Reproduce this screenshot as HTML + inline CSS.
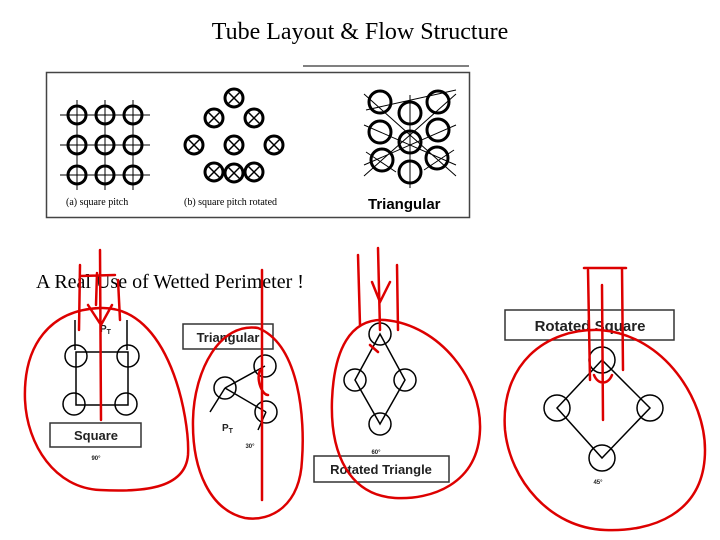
<!DOCTYPE html>
<html><head><style>
body{margin:0;width:720px;height:540px;background:#fff;overflow:hidden}
svg{display:block}
</style></head><body>
<svg width="720" height="540" viewBox="0 0 720 540" xmlns="http://www.w3.org/2000/svg">
<text x="360" y="39" text-anchor="middle" font-family="Liberation Serif" font-size="24">Tube Layout &amp; Flow Structure</text>
<line x1="303" y1="66" x2="469" y2="66" stroke="#000" stroke-width="1"/>
<rect x="46.5" y="72.5" width="423" height="145" fill="#fff" stroke="#444" stroke-width="1.5"/>
<g fill="none" stroke="#000" stroke-width="3">
<circle cx="77" cy="115" r="9"/><circle cx="105" cy="115" r="9"/><circle cx="133" cy="115" r="9"/>
<circle cx="77" cy="145" r="9"/><circle cx="105" cy="145" r="9"/><circle cx="133" cy="145" r="9"/>
<circle cx="77" cy="175" r="9"/><circle cx="105" cy="175" r="9"/><circle cx="133" cy="175" r="9"/>
</g>
<g stroke="#000" stroke-width="1">
<line x1="60" y1="115" x2="150" y2="115"/><line x1="60" y1="145" x2="150" y2="145"/><line x1="60" y1="175" x2="150" y2="175"/>
<line x1="77" y1="100" x2="77" y2="190"/><line x1="105" y1="100" x2="105" y2="190"/><line x1="133" y1="100" x2="133" y2="190"/>
</g>
<g fill="none" stroke="#000" stroke-width="3">
<circle cx="234" cy="98" r="9"/><circle cx="214" cy="118" r="9"/><circle cx="254" cy="118" r="9"/>
<circle cx="194" cy="145" r="9"/><circle cx="234" cy="145" r="9"/><circle cx="274" cy="145" r="9"/>
<circle cx="214" cy="172" r="9"/><circle cx="254" cy="172" r="9"/><circle cx="234" cy="173" r="9"/>
</g>
<g stroke="#000" stroke-width="1.5">
<path d="M227 91l14 14M241 91l-14 14M207 111l14 14M221 111l-14 14M247 111l14 14M261 111l-14 14M187 138l14 14M201 138l-14 14M227 138l14 14M241 138l-14 14M267 138l14 14M281 138l-14 14M207 165l14 14M221 165l-14 14M247 165l14 14M261 165l-14 14M227 166l14 14M241 166l-14 14"/>
</g>
<g fill="none" stroke="#000" stroke-width="3">
<circle cx="380" cy="102" r="11"/><circle cx="438" cy="102" r="11"/><circle cx="410" cy="113" r="11"/>
<circle cx="380" cy="132" r="11"/><circle cx="438" cy="130" r="11"/><circle cx="410" cy="142" r="11"/>
<circle cx="382" cy="160" r="11"/><circle cx="437" cy="158" r="11"/><circle cx="410" cy="172" r="11"/>
</g>
<g stroke="#000" stroke-width="1">
<line x1="410" y1="95" x2="410" y2="188"/>
<path d="M364 94l92 82M456 94l-92 82M364 125l92 40M456 125l-92 40M366 152l30 20M454 150l-30 20M366 110l90 -20"/>
</g>
<text x="66" y="205" font-family="Liberation Serif" font-size="10">(a) square pitch</text>
<text x="184" y="205" font-family="Liberation Serif" font-size="10">(b) square pitch rotated</text>
<text x="368" y="209" font-family="Liberation Sans" font-weight="bold" font-size="15">Triangular</text>

<text x="36" y="288" font-family="Liberation Serif" font-size="20">A Real Use of Wetted Perimeter !</text>

<g fill="none" stroke="#000" stroke-width="1.5">
<circle cx="76" cy="356" r="11"/><circle cx="128" cy="356" r="11"/><circle cx="74" cy="404" r="11"/><circle cx="126" cy="404" r="11"/>
<rect x="76" y="352" width="52" height="53"/>
<line x1="75" y1="320" x2="75" y2="350"/><line x1="127" y1="320" x2="127" y2="350"/>
<rect x="50" y="423" width="91" height="24" stroke="#333"/>
<circle cx="225" cy="388" r="11"/><circle cx="265" cy="366" r="11"/><circle cx="266" cy="412" r="11"/>
<path d="M225 388L265 366M225 388L266 412M225 388L210 412M266 412L258 430"/>
<rect x="183" y="324" width="90" height="25" stroke="#333"/>
<circle cx="380" cy="334" r="11"/><circle cx="355" cy="380" r="11"/><circle cx="405" cy="380" r="11"/><circle cx="380" cy="424" r="11"/>
<path d="M380 334L355 380L380 424L405 380Z"/>
<rect x="314" y="456" width="135" height="26" stroke="#333"/>
<circle cx="602" cy="360" r="13"/><circle cx="557" cy="408" r="13"/><circle cx="650" cy="408" r="13"/><circle cx="602" cy="458" r="13"/>
<path d="M602 360L557 408L602 458L650 408Z"/>
<rect x="505" y="310" width="169" height="30" stroke="#333"/>
</g>
<g font-family="Liberation Sans" font-weight="bold" fill="#222">
<text x="96" y="440" font-size="13" text-anchor="middle">Square</text>
<text x="228" y="342" font-size="13" text-anchor="middle">Triangular</text>
<text x="381" y="474" font-size="13" text-anchor="middle">Rotated Triangle</text>
<text x="590" y="331" font-size="15" text-anchor="middle">Rotated Square</text>
<text x="100" y="332" font-size="10">P<tspan font-size="7" dy="2">T</tspan></text>
<text x="222" y="431" font-size="10">P<tspan font-size="7" dy="2">T</tspan></text>
<text x="96" y="460" font-size="6" text-anchor="middle">90°</text>
<text x="250" y="448" font-size="6" text-anchor="middle">30°</text>
<text x="376" y="454" font-size="6" text-anchor="middle">60°</text>
<text x="598" y="484" font-size="6" text-anchor="middle">45°</text>
</g>

<g fill="none" stroke="#d00" stroke-width="2.5" stroke-linecap="round">
<path d="M100 308C170 305 190 420 188 455C185 490 140 492 100 490C55 488 27 445 25 400C23 345 50 310 100 308Z"/>
<path d="M258 328C300 345 305 420 302 460C300 505 272 522 245 518C210 510 192 470 193 420C194 370 220 322 258 328Z"/>
<path d="M385 320C440 325 482 380 480 430C478 485 430 500 395 498C350 495 330 455 332 400C334 350 350 318 385 320Z"/>
<path d="M600 330C665 335 705 400 705 450C705 515 650 532 605 530C550 528 510 480 505 430C500 365 545 328 600 330Z"/>
<path d="M100 250L101 420M80 265L79 330M97 273L96 305M80 276L115 275M118 280L120 320M88 305L101 325L112 305"/>
<path d="M262 270L262 500M260 370C256 380 262 395 268 395"/>
<path d="M378 248L380 330M358 255L360 325M397 265L398 330M372 282L380 302L390 282M370 345L378 352"/>
<path d="M602 285L603 420M588 270L590 380M622 268L623 370M584 268L626 268M594 375C598 385 608 385 612 375"/>
</g>
</svg>
</body></html>
